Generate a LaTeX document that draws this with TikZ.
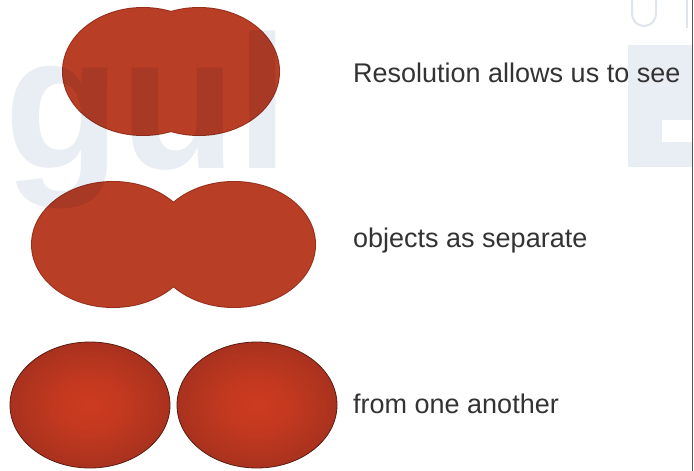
\documentclass[tikz,border=0pt]{standalone}
\usepackage{fontspec}
\setmainfont{Liberation Sans}
\usetikzlibrary{shapes.geometric}
\definecolor{blobfill}{HTML}{B83E26}
\definecolor{blobedge}{HTML}{962F1C}
\definecolor{ballin}{HTML}{CC3B20}
\definecolor{ballout}{HTML}{74241A}
\definecolor{balledge}{HTML}{5A1C12}
\definecolor{wmark}{HTML}{E9EEF4}
\definecolor{wline}{HTML}{DFE5EE}
\definecolor{txt}{HTML}{333333}
\definecolor{rim}{HTML}{555555}
\pgfdeclareradialshading{ballshade}{\pgfpoint{0bp}{0bp}}{color(0bp)=(ballin); color(10bp)=(ballin!90!ballout); color(30bp)=(ballin!50!ballout); color(46bp)=(ballout); color(50bp)=(balledge)}
\tikzset{
  lbl/.style={anchor=base west, inner sep=0pt, text=txt, font=\fontsize{27}{32}\selectfont},
  blobline/.style={draw=blobedge, line width=2pt},
  blobbody/.style={fill=blobfill},
  ballbody/.style={shading=ballshade},
  ballrim/.style={draw=balledge, line width=0.8pt},
  wm/.style={anchor=base west, inner sep=0pt, text=wmark, font=\bfseries\fontsize{190}{190}\selectfont}
}
\begin{document}
\begin{tikzpicture}[x=1pt,y=-1pt]
\fill[white] (0,0) rectangle (694,471);
\useasboundingbox (0,0) rectangle (694,471);
% row 1: nearly coincident
\path[blobline] (143,71.5) ellipse [x radius=80, y radius=63.5];
\path[blobline] (199,71.5) ellipse [x radius=80, y radius=63.5];
\path[blobbody] (143,71.5) ellipse [x radius=80, y radius=63.5];
\path[blobbody] (199,71.5) ellipse [x radius=80, y radius=63.5];
% row 2: partly overlapping
\path[blobline] (113,244.5) ellipse [x radius=81, y radius=62.5];
\path[blobline] (234,244.5) ellipse [x radius=81, y radius=62.5];
\path[blobbody] (113,244.5) ellipse [x radius=81, y radius=62.5];
\path[blobbody] (234,244.5) ellipse [x radius=81, y radius=62.5];
% row 3: separate
\shade[ballbody] (90,405) ellipse [x radius=80, y radius=63];
\shade[ballbody] (257,405) ellipse [x radius=80, y radius=63];
\path[ballrim] (90,405) ellipse [x radius=80, y radius=63];
\path[ballrim] (257,405) ellipse [x radius=80, y radius=63];
% watermark
\begin{scope}[blend mode=multiply]
\node[wm] (wmtext) at (4,168) {gul};
\fill[wmark] (628,45) rectangle (692,167);
\draw[wline, line width=2pt] (632,0) -- (632,14) arc [start angle=180, end angle=360, x radius=12, y radius=-12] -- (656,0);
\draw[wline, line width=2pt] (687,0) -- (687,28);
\end{scope}
\fill[white] (662,120) rectangle (692,142);
% labels
\node[lbl] (t1) at (353,82) {Resolution allows us to see};
\node[lbl] (t2) at (353,247) {objects as separate};
\node[lbl] (t3) at (353,413) {from one another};
% right border
\draw[rim, line width=1.5pt] (692.5,0) -- (692.5,471);
\end{tikzpicture}
\end{document}
